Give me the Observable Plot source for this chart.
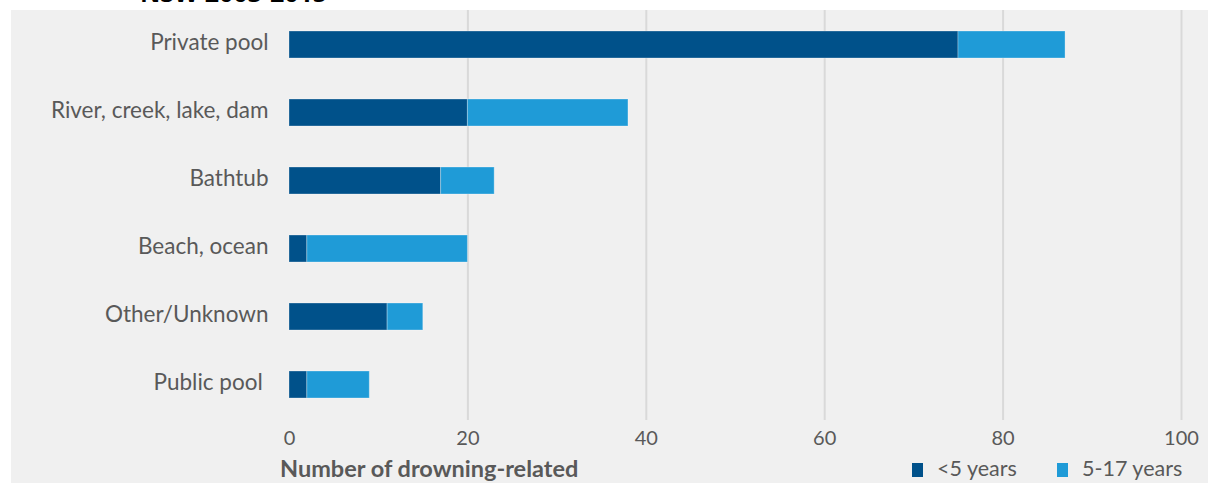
<!DOCTYPE html>
<html><head><meta charset="utf-8">
<script src="https://cdn.jsdelivr.net/npm/d3@7"></script>
<script src="https://cdn.jsdelivr.net/npm/@observablehq/plot@0.6"></script>
<style>
body{margin:0;background:#fff;font-family:Lato,sans-serif;width:1208px;height:483px;overflow:hidden;position:relative;}
#title{position:absolute;left:0;top:0;width:1208px;height:10px;overflow:hidden;}
#title span{position:absolute;left:140px;top:-25px;font:bold 25px "Open Sans",sans-serif;color:#000;white-space:nowrap;}
#panel{position:absolute;left:11px;top:10px;width:1197px;height:473px;background:#f0f0f0;}
#chart{position:absolute;left:0;top:0;}
#xtitle{position:absolute;left:269px;top:445px;font:bold 23.5px Lato,sans-serif;color:#595959;line-height:26px;white-space:nowrap;}
.lg{position:absolute;top:446px;font:21.5px Lato,sans-serif;color:#595959;line-height:24px;white-space:nowrap;}
.sw{display:inline-block;width:11px;height:14px;vertical-align:-1px;margin-right:14px;}
</style></head>
<body>
<div id="title"><span>NSW 2003-2015</span></div>
<div id="panel">
  <div id="chart"></div>
  <div id="xtitle"></div>
  <div id="lg1" class="lg" style="left:901px"></div>
  <div id="lg2" class="lg" style="left:1046px"></div>
</div>
<script>
const categories = ["Private pool", "River, creek, lake, dam", "Bathtub", "Beach, ocean", "Other/Unknown", "Public pool\u00a0"];
const under5 = [75, 20, 17, 2, 11, 2];
const age5to17 = [12, 18, 6, 18, 4, 7];
const seriesNames = ["<5 years", "5-17 years"];
const seriesColors = ["#00518a", "#1f9bd7"];
const xTicks = [0, 20, 40, 60, 80, 100];
const xTitle = "Number of drowning-related";

const rows = [];
categories.forEach((c, i) => {
  rows.push({category: c, series: seriesNames[0], value: under5[i]});
  rows.push({category: c, series: seriesNames[1], value: age5to17[i]});
});

const chart = Plot.plot({
  width: 1197,
  height: 445,
  marginLeft: 278,
  marginRight: 27,
  marginTop: 0,
  marginBottom: 35,
  style: {background: "transparent", fontFamily: "Lato, sans-serif", fontSize: "20px", color: "#595959"},
  x: {domain: [0, 100], ticks: xTicks, label: null},
  y: {domain: categories, paddingInner: 0.6, paddingOuter: 0.3, label: null},
  color: {domain: seriesNames, range: seriesColors},
  marks: [
    Plot.gridX(xTicks.filter(d => d > 0), {stroke: "#d9d9d9", strokeOpacity: 1, strokeWidth: 2}),
    Plot.barX(rows, Plot.stackX({y: "category", x: "value", fill: "series", stroke: "#ffffff", strokeOpacity: 0.3, strokeWidth: 1})),
    Plot.axisX({ticks: xTicks, tickSize: 0, tickPadding: 10, fontSize: 20, label: null, fill: "#595959"}),
    Plot.axisY({tickSize: 0, tickPadding: 21, fontSize: 22.5, dy: -2, label: null, fill: "#595959"})
  ]
});
document.getElementById("chart").appendChild(chart);
document.getElementById("xtitle").textContent = xTitle;
[["lg1", 0], ["lg2", 1]].forEach(([id, i]) => {
  const el = document.getElementById(id);
  const sw = document.createElement("span");
  sw.className = "sw";
  sw.style.background = seriesColors[i];
  el.appendChild(sw);
  el.appendChild(document.createTextNode(seriesNames[i]));
});
</script>
</body></html>
